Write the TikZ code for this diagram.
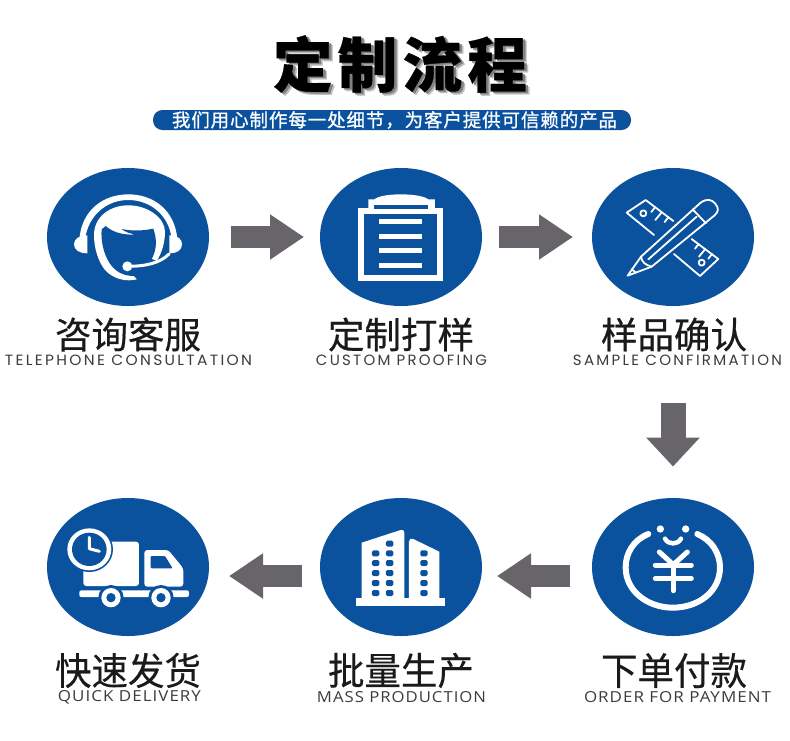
\documentclass[tikz,border=0pt]{standalone}
\usepackage{fontspec}
\usepackage{graphicx}
\usetikzlibrary{shapes.geometric,arrows.meta}
\newfontfamily\cjkreg{Noto Sans CJK SC}[FakeBold=0.5]
\newfontfamily\cjklight{Noto Sans CJK SC}[FakeBold=0.25]
\newfontfamily\cjkheavy{Noto Sans CJK SC Black}[LetterSpace=9,FakeBold=0.5]
\newfontfamily\cjkbar{Noto Sans CJK SC}[LetterSpace=5,FakeBold=1.0]
\newfontfamily\entop{Poppins}[LetterSpace=15]
\newfontfamily\enbot{Open Sans}[LetterSpace=6]
\definecolor{bluedisc}{HTML}{0A529E}
\definecolor{arrowgray}{HTML}{676569}
\definecolor{txtcn}{HTML}{1A1A1A}
\definecolor{txten}{HTML}{3C3C3C}
\tikzset{
  disc/.style={ellipse,fill=bluedisc,draw=none,minimum width=162pt,minimum height=138pt,inner sep=0pt},
  blockarrow/.style={draw=arrowgray,line width=22pt,-{Triangle[length=34pt,width=43pt]},shorten >=0pt},
  cnlabel/.style={inner sep=0pt,text=txtcn},
  enlabel/.style={inner sep=0pt,text=txten},
  ico/.style={fill=white,draw=none},
  icoblue/.style={fill=bluedisc,draw=none},
  thin line/.style={draw=white,line width=1.8pt,line cap=round,line join=round},
}
\newcommand{\cntext}[1]{\resizebox{146pt}{!}{\fontsize{37pt}{37pt}\cjkreg #1}}
\newcommand{\cnlight}[1]{\resizebox{146pt}{32pt}{\fontsize{37pt}{37pt}\cjklight #1}}
\newcommand{\entoptext}[2]{\resizebox{#1}{10.5pt}{\fontsize{13pt}{13pt}\entop #2}}
\newcommand{\enbottext}[2]{\resizebox{#1}{11pt}{\fontsize{13pt}{13pt}\enbot #2}}
\begin{document}
\begin{tikzpicture}[x=1pt,y=-1pt]
\useasboundingbox (0,0) rectangle (790,740);
\fill[white] (0,0) rectangle (790,740);

% title
\node[inner sep=0pt,text=black!25] (titleshadowb) at (404,67) {\resizebox{254pt}{!}{\fontsize{60pt}{60pt}\cjkheavy 定制流程}};
\node[inner sep=0pt,text=black!50] (titleshadow) at (402.5,65.5) {\resizebox{254pt}{!}{\fontsize{60pt}{60pt}\cjkheavy 定制流程}};
\node[inner sep=0pt,text=black] (title) at (400,64) {\resizebox{254pt}{!}{\fontsize{60pt}{60pt}\cjkheavy 定制流程}};

% subtitle bar
\node[rounded corners=9.5pt,fill=bluedisc,minimum width=478pt,minimum height=20pt,inner sep=0pt] (bar) at (392,120) {};
\node[inner sep=0pt,text=white] (subtitle) at (394.5,120) {\resizebox{445pt}{!}{\fontsize{14pt}{14pt}\cjkbar 我们用心制作每一处细节\char"FF0C 为客户提供可信赖的产品}};

% discs
\node[disc] (d1) at (128,237) {};
\node[disc] (d2) at (401,237) {};
\node[disc] (d3) at (673,237) {};
\node[disc] (d4) at (673,567) {};
\node[disc] (d5) at (401,567) {};
\node[disc] (d6) at (128,567) {};

% arrows
\coordinate (a1s) at (230.5,237); \coordinate (a1e) at (304,237);
\coordinate (a2s) at (499,237);   \coordinate (a2e) at (573,237);
\coordinate (a3s) at (673,403);   \coordinate (a3e) at (673,466.5);
\coordinate (a4s) at (570,576);   \coordinate (a4e) at (497,576);
\coordinate (a5s) at (302,576);   \coordinate (a5e) at (229,576);
\draw[blockarrow] (a1s) -- (a1e);
\draw[blockarrow] (a2s) -- (a2e);
\draw[draw=arrowgray,line width=25pt,-{Triangle[length=29pt,width=52pt]}] (a3s) -- (a3e);
\draw[blockarrow] (a4s) -- (a4e);
\draw[blockarrow] (a5s) -- (a5e);

% labels
\node[cnlabel] (l1) at (128,334.5) {\cntext{咨询客服}};
\node[enlabel] (e1) at (128.5,360.5) {\entoptext{247pt}{TELEPHONE CONSULTATION}};
\node[cnlabel] (l2) at (401,334.5) {\cntext{定制打样}};
\node[enlabel] (e2) at (401.5,360.5) {\entoptext{171pt}{CUSTOM PROOFING}};
\node[cnlabel] (l3) at (674,334.5) {\cntext{样品确认}};
\node[enlabel] (e3) at (677.5,360.5) {\entoptext{209pt}{SAMPLE CONFIRMATION}};
\node[cnlabel] (l4) at (674,670.5) {\cnlight{下单付款}};
\node[enlabel] (e4) at (677.5,697) {\enbottext{187pt}{ORDER FOR PAYMENT}};
\node[cnlabel] (l5) at (401,670.5) {\cnlight{批量生产}};
\node[enlabel] (e5) at (401.5,697) {\enbottext{169pt}{MASS PRODUCTION}};
\node[cnlabel] (l6) at (128,670.5) {\cnlight{快速发货}};
\node[enlabel] (e6) at (129.5,697) {\enbottext{143pt}{QUICK DELIVERY}};

% headset icon
\begin{scope}[shift={(70,190)},x=0.3333pt,y=-0.3333pt]
\fill[ico] (28,148) .. controls (35,60) and (100,13) .. (175,13) .. controls (250,13) and (315,60) .. (322,148)
  -- (305,148) .. controls (298,75) and (240,30) .. (175,30) .. controls (110,30) and (55,75) .. (45,148) -- cycle;
\fill[ico] (52,136) .. controls (25,136) and (12,148) .. (12,163) .. controls (12,180) and (28,190) .. (52,190) -- cycle;
\fill[ico] (298,136) .. controls (325,136) and (336,148) .. (336,163) .. controls (336,180) and (322,190) .. (298,190) -- cycle;
\fill[ico] (72,135) .. controls (72,80) and (120,46) .. (175,46) .. controls (235,46) and (285,85) .. (285,125)
  .. controls (285,155) and (277,185) .. (262,210)
  -- (200,268) .. controls (170,276) and (130,268) .. (105,240) .. controls (85,215) and (72,175) .. (72,135) -- cycle;
\fill[icoblue] (95,118) -- (107,108) .. controls (125,125) and (160,137) .. (197,133)
  .. controls (180,131) and (165,126) .. (155,117) .. controls (190,124) and (220,122) .. (250,116)
  .. controls (262,150) and (260,180) .. (245,207) -- (265,215) -- (292,235) -- (205,272) -- (192,258)
  .. controls (160,258) and (135,245) .. (118,218) .. controls (100,190) and (92,150) .. (95,118) -- cycle;
\draw[draw=white,line width=3pt,line cap=round] (172,229) .. controls (225,229) and (270,220) .. (297,192);
\fill[ico] (172,229) circle[radius=15];
\end{scope}

% document icon
\begin{scope}[shift={(310,160)},x=0.3333pt,y=-0.3333pt]
\fill[ico] (175,150) -- (175,118) -- (193,118) .. controls (215,98) and (330,98) .. (355,118) -- (375,118) -- (375,150) -- cycle;
\fill[ico] (143,145) rectangle (400,362);
\fill[icoblue] (162,162) rectangle (382,345);
\fill[icoblue] (193,135) rectangle (355,146);
\fill[ico] (207,177) rectangle (336,192);
\fill[ico] (207,221) rectangle (336,236);
\fill[ico] (207,264) rectangle (336,279);
\fill[ico] (207,309) rectangle (336,324);
\end{scope}

% ruler and pencil icon
\begin{scope}[shift={(580,160)},x=0.3333pt,y=-0.3333pt]
\draw[thin line] (222,225) -- (140,158) -- (197,120) -- (280,183);
\draw[thin line] (335,237) -- (415,297) -- (360,348) -- (282,282);
\draw[thin line] (225,142) -- (214,156);
\draw[thin line] (245,157) -- (226,180);
\draw[thin line] (265,172) -- (254,186);
\draw[thin line] (356,252) -- (345,266);
\draw[thin line] (376,267) -- (357,290);
\draw[thin line] (396,282) -- (385,296);
\draw[thin line] (190,160) circle[radius=9];
\draw[thin line] (365,308) circle[radius=9];
\draw[thin line] (143,347) -- (183,290) -- (362,128) .. controls (380,115) and (395,118) .. (405,130)
  .. controls (418,145) and (415,155) .. (405,165) -- (215,320) -- cycle;
\draw[thin line] (183,290) .. controls (185,305) and (195,315) .. (215,320);
\draw[thin line] (205,298) -- (350,170);
\draw[thin line] (338,148) -- (378,190);
\draw[thin line] (155,328) -- (168,338);
\end{scope}

% yuan icon
\begin{scope}[shift={(580,490)},x=0.3333pt,y=-0.3333pt]
\draw[draw=white,line width=6pt,line cap=round] (205,132) .. controls (160,150) and (137,190) .. (137,232)
  .. controls (137,305) and (205,353) .. (278,353) .. controls (355,353) and (420,305) .. (420,232)
  .. controls (420,190) and (395,150) .. (352,132);
\fill[ico] (241,117) circle[radius=11];
\fill[ico] (317,117) circle[radius=11];
\draw[draw=white,line width=4.5pt,line cap=round] (255,146) .. controls (265,165) and (293,165) .. (303,146);
\draw[draw=white,line width=5pt,line cap=round] (238,186) -- (280,224) -- (322,186);
\draw[draw=white,line width=5pt,line cap=round] (226,225) -- (334,225);
\draw[draw=white,line width=5pt,line cap=round] (226,265) -- (334,265);
\draw[draw=white,line width=5pt,line cap=round] (280,224) -- (280,302);
\end{scope}

% building icon
\begin{scope}[shift={(310,490)},x=0.3333pt,y=-0.3333pt]
\fill[ico] (155,330) -- (155,158) -- (272,120) .. controls (280,118) and (283,122) .. (283,128) -- (283,330) -- cycle;
\fill[ico] (297,330) -- (297,155) .. controls (297,147) and (302,144) .. (310,147) -- (388,185) -- (388,330) -- cycle;
\fill[ico] (137,325) rectangle (405,347);
\foreach \yy in {190,219,249,279,309}{
  \fill[icoblue,rounded corners=1.5pt] (186,\yy-9) rectangle (208,\yy+9);
  \fill[icoblue,rounded corners=1.5pt] (228,\yy-9) rectangle (250,\yy+9);
  \fill[icoblue,rounded corners=1.5pt] (331,\yy-9) rectangle (353,\yy+9);
}
\fill[icoblue,rounded corners=1.5pt] (228,152) rectangle (250,170);
\end{scope}

% truck icon
\begin{scope}[shift={(30,490)},x=0.3333pt,y=-0.3333pt]
\fill[ico,rounded corners=3pt] (160,288) -- (160,155) -- (327,155) -- (327,288) -- cycle;
\fill[icoblue] (178,178) ellipse[x radius=71,y radius=68];
\fill[ico] (178,178) ellipse[x radius=66,y radius=63];
\fill[icoblue] (178,178) ellipse[x radius=52,y radius=50];
\draw[draw=white,line width=3pt,line cap=round,line join=round] (178,142) -- (178,176) -- (208,184);
\fill[ico,rounded corners=3pt] (343,290) -- (343,180) -- (415,180) -- (460,235) -- (460,290) -- cycle;
\fill[icoblue,rounded corners=1pt] (362,198) -- (405,198) -- (428,235) -- (362,235) -- cycle;
\fill[ico,rounded corners=2pt] (148,301) rectangle (477,321);
\foreach \wx in {243,393}{
  \fill[icoblue] (\wx,323) circle[radius=38];
  \fill[ico] (\wx,323) circle[radius=29];
  \fill[icoblue] (\wx,323) circle[radius=14];
}
\end{scope}
\end{tikzpicture}
\end{document}
